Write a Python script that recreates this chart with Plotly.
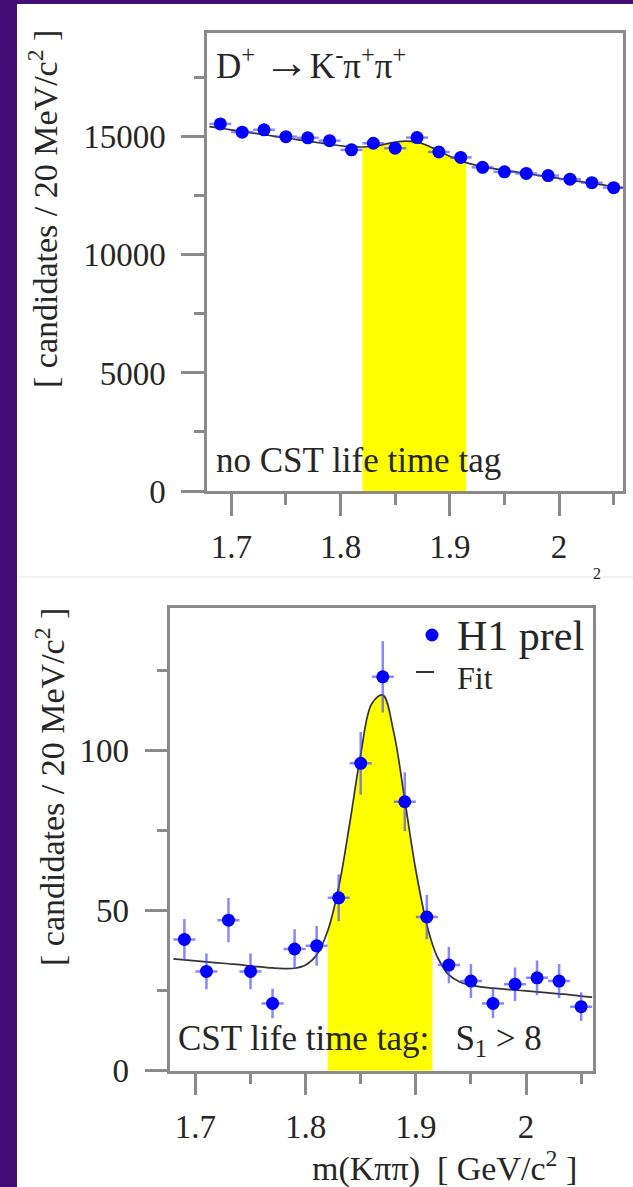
import plotly.graph_objects as go

# D+ -> K- pi+ pi+ invariant mass, 20 MeV bins
mass = [1.69, 1.71, 1.73, 1.75, 1.77, 1.79, 1.81, 1.83, 1.85, 1.87,
        1.89, 1.91, 1.93, 1.95, 1.97, 1.99, 2.01, 2.03, 2.05]

# no CST lifetime tag
counts_notag = [15550, 15200, 15300, 15010, 14960, 14840, 14450, 14730, 14520, 14970,
                14360, 14130, 13710, 13520, 13450, 13360, 13210, 13060, 12850]
err_notag = [125, 123, 124, 123, 122, 122, 120, 121, 120, 122,
             120, 119, 117, 116, 116, 116, 115, 114, 113]

# CST lifetime tag S1 > 8
counts_tag = [41, 31, 47, 31, 21, 38, 39, 54, 96, 123,
              84, 48, 33, 28, 21, 27, 29, 28, 20]
err_tag = [6.4, 5.6, 6.9, 5.6, 4.6, 6.2, 6.2, 7.3, 9.8, 11.1,
           9.2, 6.9, 5.7, 5.3, 4.6, 5.2, 5.4, 5.3, 4.5]

# fitted curves (signal + background), sampled along the mass axis
fit_mass = [1.68, 1.69, 1.70, 1.71, 1.72, 1.73, 1.74, 1.75, 1.76, 1.77,
            1.78, 1.79, 1.80, 1.81, 1.82, 1.83, 1.84, 1.85, 1.86, 1.87,
            1.88, 1.89, 1.90, 1.91, 1.915, 1.92, 1.93, 1.94, 1.95, 1.96,
            1.97, 1.98, 1.99, 2.00, 2.01, 2.02, 2.03, 2.04, 2.05, 2.06]
fit_notag = [15436, 15367, 15299, 15230, 15162, 15093, 15024, 14955, 14887, 14818,
             14751, 14685, 14625, 14583, 14571, 14604, 14683, 14775, 14823, 14777,
             14625, 14405, 14179, 13988, 13910, 13846, 13741, 13657, 13585, 13514,
             13445, 13376, 13308, 13239, 13170, 13101, 13033, 12964, 12895, 12827]
fit_tag = [34.9, 34.6, 34.3, 34.0, 33.7, 33.4, 33.1, 32.7, 32.4, 32.1,
           31.9, 32.0, 33.0, 36.1, 43.6, 57.3, 77.2, 98.8, 114.6, 117.3,
           105.6, 84.5, 62.6, 45.6, 39.6, 35.2, 29.9, 27.7, 26.7, 26.1,
           25.8, 25.5, 25.2, 24.9, 24.6, 24.3, 24.0, 23.7, 23.3, 23.0]

# signal window
window = [1.82, 1.915]

W, H = 633, 1187
PURPLE = "#410e76"
BLUE = "#0000ff"
ERRBLUE = "rgba(70,70,255,0.65)"
AXIS = "#8a8a8a"
TXT = "#262626"
FONT = "Liberation Serif"


def px(x):
    return x / W


def py(y):
    return 1 - y / H


fig = go.Figure()


def add_panel(fig, xa, ya, counts, errs, fit):
    band_x = [m for m in fit_mass if window[0] <= m <= window[1]]
    band_y = [f for m, f in zip(fit_mass, fit) if window[0] <= m <= window[1]]
    fig.add_trace(go.Scatter(
        x=band_x, y=band_y, xaxis=xa, yaxis=ya, mode="lines",
        line=dict(width=0, shape="spline"), fill="tozeroy",
        fillcolor="#ffff00", hoverinfo="skip", showlegend=False))
    fig.add_trace(go.Scatter(
        x=fit_mass, y=fit, xaxis=xa, yaxis=ya, mode="lines",
        line=dict(color="#333333", width=1.7, shape="spline"),
        showlegend=False))
    fig.add_trace(go.Scatter(
        x=mass, y=counts, xaxis=xa, yaxis=ya, mode="markers",
        marker=dict(color=BLUE, size=13),
        error_y=dict(type="data", array=errs, color=ERRBLUE, thickness=2.5, width=0),
        error_x=dict(type="constant", value=0.01, color=ERRBLUE, thickness=2.5, width=0),
        showlegend=False))


add_panel(fig, "x", "y", counts_notag, err_notag, fit_notag)
add_panel(fig, "x2", "y2", counts_tag, err_tag, fit_tag)

tickfont = dict(family=FONT, size=33, color=TXT)
common_x = dict(
    showgrid=False, zeroline=False, showline=True, linecolor=AXIS, linewidth=2.5,
    mirror=True, ticks="outside", ticklen=22, tickwidth=2.5, tickcolor=AXIS,
    tick0=1.7, dtick=0.1, tickfont=tickfont, ticklabelstandoff=3,
    minor=dict(dtick=0.05, tick0=1.7, ticks="outside", ticklen=11,
               tickwidth=2.5, tickcolor=AXIS),
)
common_y = dict(
    showgrid=False, zeroline=False, showline=True, linecolor=AXIS, linewidth=2.5,
    mirror=True, ticks="outside", ticklen=23, tickwidth=2.5, tickcolor=AXIS,
    tickfont=tickfont, tickformat="d", ticklabelstandoff=9,
)

fig.update_layout(
    width=W, height=H, margin=dict(l=0, r=0, t=0, b=0, autoexpand=False),
    paper_bgcolor=PURPLE, plot_bgcolor="white",
    xaxis=dict(common_x, domain=[px(207.1), px(623)], range=[1.6779, 2.0585],
               anchor="y"),
    yaxis=dict(common_y, domain=[py(491), py(33)], range=[0, 19400], dtick=5000,
               anchor="x",
               minor=dict(dtick=2500, ticks="outside", ticklen=10, tickwidth=2.5,
                          tickcolor=AXIS)),
    xaxis2=dict(common_x, domain=[px(170.4), px(592.7)], range=[1.6773, 2.0605],
                anchor="y2"),
    yaxis2=dict(common_y, domain=[py(1070.7), py(608)], range=[0, 144.5], dtick=50,
                anchor="x2",
                minor=dict(dtick=25, ticks="outside", ticklen=11, tickwidth=2.5,
                           tickcolor=AXIS)),
)

shapes = [
    # white page behind both panels
    dict(type="rect", xref="paper", yref="paper", x0=px(17), x1=1, y0=0, y1=py(4),
         fillcolor="white", line=dict(width=0), layer="below"),
    dict(type="line", xref="paper", yref="paper", x0=px(17), x1=1, y0=py(577), y1=py(577),
         line=dict(color="#e4e4e4", width=1), layer="below"),
    # legend symbols
    dict(type="circle", xref="paper", yref="paper",
         x0=px(425.5), x1=px(438.5), y0=py(641.5), y1=py(628.5),
         fillcolor=BLUE, line=dict(width=0)),
    dict(type="line", xref="paper", yref="paper", x0=px(416), x1=px(434),
         y0=py(672), y1=py(672), line=dict(color="#333333", width=2)),
]
fig.update_layout(shapes=shapes)


def label(text, x, y, size, xanchor="left", angle=0):
    fig.add_annotation(text=text, xref="paper", yref="paper", x=px(x), y=py(y),
                       xanchor=xanchor, yanchor="middle", showarrow=False,
                       textangle=angle, font=dict(family=FONT, size=size, color=TXT))


label("D<sup>+</sup> <span style='font-size:46px'>\u2192</span>K<sup>-</sup>\u03c0<sup>+</sup>\u03c0<sup>+</sup>",
      214, 62, 35)
label("no CST life time tag", 214, 460, 35)
label("CST life time tag:   S<sub>1</sub> > 8", 176, 1040, 35)
label("H1 prel", 455, 636, 42)
label("Fit", 455, 678, 32)
label("m(K\u03c0\u03c0)  [ GeV/c<sup>2</sup> ]", 310, 1166, 34)
label("[ candidates / 20 MeV/c<sup>2</sup> ]", 43, 209, 34, xanchor="center", angle=-90)
label("[ candidates / 20 MeV/c<sup>2</sup> ]", 50, 787, 34, xanchor="center", angle=-90)
label("2", 597, 573, 16, xanchor="center")

fig.write_html("out.html")
